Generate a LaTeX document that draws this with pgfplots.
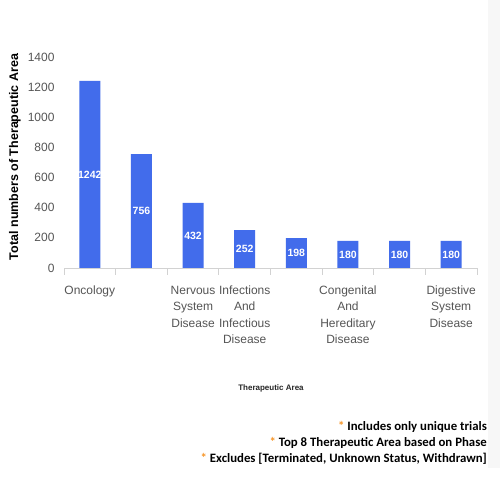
\documentclass[border=0pt]{standalone}
\usepackage{pgfplots}
\pgfplotsset{compat=1.18}
\usepackage{fontspec}
\setmainfont{Liberation Sans}
\newfontfamily\notefont{Carlito}
\definecolor{barblue}{RGB}{66,108,235}
\definecolor{ticklab}{RGB}{85,85,85}
\definecolor{axgray}{RGB}{210,210,210}
\definecolor{astorange}{RGB}{247,150,40}
\begin{document}
\begin{tikzpicture}[x=1pt,y=1pt]
\useasboundingbox (0,0) rectangle (500,500);
\fill[white] (0,0) rectangle (500,500);
\fill[black!3] (488,32) rectangle (500,500);
\begin{axis}[
  at={(64pt,232pt)}, anchor=south west,
  scale only axis, width=413pt, height=211pt,
  xmin=-0.5, xmax=7.5, ymin=0, ymax=1400,
  ytick={0,200,...,1400},
  axis x line*=bottom, axis y line*=left,
  x axis line style={draw=axgray, line width=0.8pt, -},
  y axis line style={draw=none},
  major y tick style={draw=none},
  /pgf/number format/assume math mode=true,
  /pgf/number format/1000 sep={},
  ybar, bar width=21pt,
  xtick={0,...,7},
  xticklabels={{Oncology},{},{Nervous\\System\\Disease},{Infections\\And\\Infectious\\Disease},{},{Congenital\\And\\Hereditary\\Disease},{},{Digestive\\System\\Disease}},
  x tick label style={font=\fontsize{12}{16.5}\selectfont, color=ticklab, align=center, anchor=north, yshift=-10pt},
  major x tick style={draw=none},
  extra x ticks={-0.5,0.5,...,7.5},
  extra x tick labels={},
  extra x tick style={tick align=outside, major tick length=7pt, major x tick style={draw=axgray, line width=0.8pt}},
  y tick label style={font=\fontsize{12}{14}\selectfont, color=ticklab, anchor=east, xshift=-6pt},
  nodes near coords,
  visualization depends on=y \as \rawy,
  every node near coord/.append style={anchor=center, font=\bfseries\fontsize{10.5}{12}\selectfont, text=white, shift={(axis direction cs:0,-\rawy/2)}},
  clip=false,
]
\addplot[fill=barblue, draw=none] coordinates {(0,1242) (1,756) (2,432) (3,252) (4,198) (5,180) (6,180) (7,180)};
\end{axis}
\node[rotate=90, font=\bfseries\fontsize{12.5}{14}\selectfont] at (15,343) {Total numbers of Therapeutic Area};
\node[font=\bfseries\fontsize{8}{10}\selectfont, color=black!85] at (271,112) {Therapeutic Area};
\node[anchor=east, font=\notefont\bfseries\fontsize{12.8}{14}\selectfont, inner sep=0pt] at (487,73) {\textcolor{astorange}{*} Includes only unique trials};
\node[anchor=east, font=\notefont\bfseries\fontsize{12.8}{14}\selectfont, inner sep=0pt] at (487,57) {\textcolor{astorange}{*} Top 8 Therapeutic Area based on Phase};
\node[anchor=east, font=\notefont\bfseries\fontsize{12.8}{14}\selectfont, inner sep=0pt] at (487,41) {\textcolor{astorange}{*} Excludes [Terminated, Unknown Status, Withdrawn]};
\end{tikzpicture}
\end{document}
